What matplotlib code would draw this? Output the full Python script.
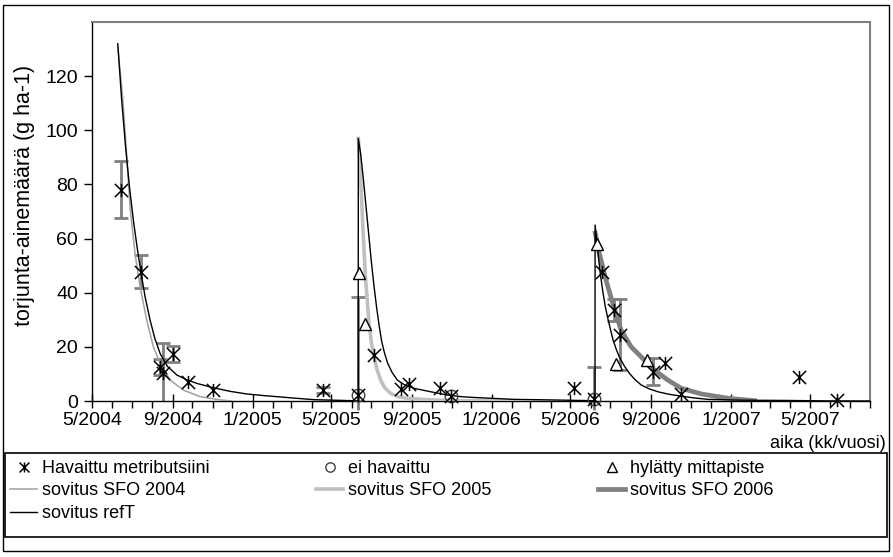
import numpy as np
import matplotlib
matplotlib.use('Agg')
import matplotlib.pyplot as plt
import matplotlib.dates as mdates
import pandas as pd
from matplotlib.path import Path
from matplotlib.patches import Rectangle

plt.rcParams['font.family'] = ['Liberation Sans', 'DejaVu Sans']
FS = 14
LFS = 13

# --- measured points (Havaittu metributsiini) ---
obs_dates = ['2004-06-15', '2004-07-14', '2004-08-12', '2004-08-17', '2004-09-01',
             '2004-09-25', '2004-11-02', '2005-04-18', '2005-06-11', '2005-07-06',
             '2005-08-15', '2005-08-27', '2005-10-14', '2005-10-31', '2006-05-07',
             '2006-06-06', '2006-06-18', '2006-07-06', '2006-07-16', '2006-09-04',
             '2006-09-22', '2006-10-16', '2007-04-14', '2007-06-11']
obs_vals = [78.0, 47.8, 12.6, 10.5, 17.5, 7.2, 4.0, 4.0, 2.2, 16.9, 4.3, 6.1, 4.9,
            1.8, 4.7, 0.6, 47.6, 33.7, 24.5, 10.8, 14.1, 2.5, 8.7, 0.3]
obs_err = [10.5, 6.0, 3.0, 11.0, 3.0, 0, 0, 1.0, 0, 0, 0, 0, 0,
           0, 0, 0, 0, 4.0, 13.0, 5.0, 0, 0, 0, 0]

# --- not detected (ei havaittu) ---
nd_dates = ['2005-06-11', '2005-10-31', '2006-06-06']
nd_vals = [2.2, 1.8, 0.6]
nd_err_low = [5.5, 0, 3.9]
nd_err_high = [36.4, 0, 12.0]

# --- rejected points (hylätty mittapiste) ---
rej_dates = ['2005-06-13', '2005-06-21', '2006-06-11', '2006-07-10', '2006-08-26']
rej_vals = [47.2, 28.6, 58.0, 13.6, 15.3]

# --- fitted curves, x in days from 1.5.2004 ---
day0 = pd.Timestamp('2004-05-01')

sfo04_day = [39.3, 46.9, 53.1, 58.1, 65.7, 73.4, 83.6, 93.7, 104, 119.3, 139.6, 165.1, 195.7, 213.6]
sfo04_val = [131.0, 112.0, 90.0, 71.5, 54.4, 42.1, 29.8, 20.0, 13.9, 7.7, 4.0, 1.6, 0.4, 0.0]

sfo05_day = [406.3, 408.5, 411, 413.5, 417.4, 420, 422.5, 426, 430, 435, 440.4, 447, 455.7,
             467, 481, 517, 560, 644]
sfo05_val = [97, 90, 76, 63, 45, 37, 29, 22, 16.5, 11.5, 7.7, 4.8, 2.8, 1.6, 1.0, 0.4, 0.1, 0.0]

sfo06_day = [767.8, 774.2, 784.4, 794.6, 807.3, 822.6, 842.9, 858.3, 878.7, 899, 929.7, 970.5, 1011]
sfo06_val = [62, 54.4, 44.5, 36, 26.1, 20, 15.1, 11.4, 7.7, 4.7, 2.6, 1.0, 0.1]

reft_day = [39.3, 45, 51, 57, 63.2, 69, 74.5, 81, 88.7, 96, 104, 115, 129.5, 145, 160, 185, 210,
            236, 262, 287, 312, 338, 369, 400, 406.2,
            406.3, 410, 414, 418, 422, 426, 430, 434, 438, 442, 446, 451, 458, 466, 478, 491,
            517, 542, 563, 583, 644, 700, 767.4,
            767.6, 771, 775, 779, 783, 787, 791, 795, 800, 805, 812, 820, 828, 838, 850, 863.5,
            880, 899, 920, 940, 991, 1060, 1120, 1187]
reft_val = [132, 112, 94.5, 79.5, 66.6, 56.5, 47.8, 38.5, 29.8, 23, 17.5, 12.8, 9.6, 7.8, 6.5, 4.9,
            3.6, 2.6, 2.0, 1.5, 1.0, 0.5, 0.3, 0.1, 0.05,
            97, 91, 82, 72, 62, 52, 43, 35, 28, 22, 18, 14, 10.5, 7.7, 5.8, 4.7,
            3.4, 2.2, 1.6, 1.3, 0.6, 0.4, 0.1,
            65, 57, 48, 41, 35, 30.5, 26.5, 22.5, 19, 16, 13, 10.2, 8, 5.9, 4.5, 3.4,
            2.5, 1.8, 1.1, 0.6, 0.3, 0.2, 0.05, 0.0]

x_ticks = ['2004-05-01', '2004-09-01', '2005-01-01', '2005-05-01', '2005-09-01',
           '2006-01-01', '2006-05-01', '2006-09-01', '2007-01-01', '2007-05-01']
y_ticks = [0, 20, 40, 60, 80, 100, 120]


def to_date(days):
    return day0 + pd.to_timedelta(np.array(days), unit='D')


# Excel-like star marker: X with a vertical bar
star = Path([(-1, -1), (1, 1), (-1, 1), (1, -1), (0, -1), (0, 1)],
            [Path.MOVETO, Path.LINETO, Path.MOVETO, Path.LINETO, Path.MOVETO, Path.LINETO])

W, H = 893, 557
fig = plt.figure(figsize=(W / 100, H / 100), dpi=100)
ax = fig.add_axes([92 / W, 1 - 401 / H, (870 - 92) / W, (401 - 22) / H])

obs_x = pd.to_datetime(obs_dates)
nd_x = pd.to_datetime(nd_dates)
rej_x = pd.to_datetime(rej_dates)

# error bars
err = np.array(obs_err)
m = err > 0
ax.errorbar(obs_x[m], np.array(obs_vals)[m], yerr=err[m], fmt='none', ecolor='#808080',
            elinewidth=2, capsize=5, capthick=2, zorder=2)
nd_lo = np.array(nd_err_low)
nd_hi = np.array(nd_err_high)
mn = nd_hi > 0
eb = ax.errorbar(nd_x[mn], np.array(nd_vals)[mn], yerr=[nd_lo[mn], nd_hi[mn]], fmt='none',
                 ecolor='#808080', elinewidth=2, capsize=5, capthick=2, zorder=2)
for art in eb.lines[2]:
    art.set_clip_on(False)

# fit curves
l04, = ax.plot(to_date(sfo04_day), sfo04_val, color='#a0a0a0', lw=1.1, zorder=3)
l05, = ax.plot(to_date(sfo05_day), sfo05_val, color='#c0c0c0', lw=2.6, zorder=3)
l06, = ax.plot(to_date(sfo06_day), sfo06_val, color='#808080', lw=3.4, zorder=3)
lref, = ax.plot(to_date(reft_day), reft_val, color='black', lw=1.0, zorder=4)

# markers
p_nd, = ax.plot(nd_x, nd_vals, linestyle='none', marker='o', ms=9, mfc='none',
                mec='#404040', mew=1.0, zorder=5, clip_on=False)
p_obs, = ax.plot(obs_x, obs_vals, linestyle='none', marker=star, ms=9.5, mfc='none',
                 mec='black', mew=1.1, zorder=6, clip_on=False)
p_rej, = ax.plot(rej_x, rej_vals, linestyle='none', marker='^', ms=9, mfc='white',
                 mec='black', mew=1.0, zorder=6)

# axes
ax.set_xlim(pd.Timestamp('2004-05-01'), pd.Timestamp('2007-08-01'))
ax.set_ylim(0, 140)
ax.set_yticks(y_ticks)
ax.set_xticks(pd.to_datetime(x_ticks))
ax.xaxis.set_major_formatter(plt.FuncFormatter(
    lambda v, p: '%d/%d' % (mdates.num2date(v).month, mdates.num2date(v).year)))
ax.xaxis.set_minor_locator(mdates.MonthLocator())
ax.tick_params(axis='x', which='major', direction='inout', length=10, width=1,
               labelsize=FS, pad=3)
ax.tick_params(axis='x', which='minor', direction='out', length=5, width=1)
ax.tick_params(axis='y', which='major', direction='out', length=6, width=1,
               labelsize=FS, pad=4)
for s in ['top', 'right']:
    ax.spines[s].set_color('#808080')
    ax.spines[s].set_linewidth(1.5)
for s in ['left', 'bottom']:
    ax.spines[s].set_color('black')
    ax.spines[s].set_linewidth(1.0)

fig.text(25 / W, 1 - 195 / H, 'torjunta-ainemäärä (g ha-1)', rotation=90,
         ha='center', va='center', fontsize=15.5)
fig.text(886 / W, 1 - 443 / H, 'aika (kk/vuosi)', ha='right', va='center', fontsize=13)

# outer frame and legend box
fig.add_artist(Rectangle((3 / W, 1 - 551 / H), 886 / W, 546 / H, transform=fig.transFigure,
                         fill=False, ec='black', lw=1.0))
fig.add_artist(Rectangle((5 / W, 1 - 537 / H), 882 / W, 84 / H, transform=fig.transFigure,
                         fill=False, ec='black', lw=1.2))

# legend: three columns placed like the original
columns = [
    (10, [p_obs, l04, lref], ['Havaittu metributsiini', 'sovitus SFO 2004', 'sovitus refT']),
    (316, [p_nd, l05], ['ei havaittu', 'sovitus SFO 2005']),
    (598, [p_rej, l06], ['hylätty mittapiste', 'sovitus SFO 2006']),
]
for x0, hs, ls in columns:
    fig.legend(hs, ls, loc='upper left', bbox_to_anchor=(x0 / W, 1 - 460 / H),
               frameon=False, borderpad=0, borderaxespad=0, fontsize=LFS,
               handlelength=1.5, handletextpad=0.3, labelspacing=0.3, markerscale=0.75)

fig.savefig('out.png', dpi=100)
